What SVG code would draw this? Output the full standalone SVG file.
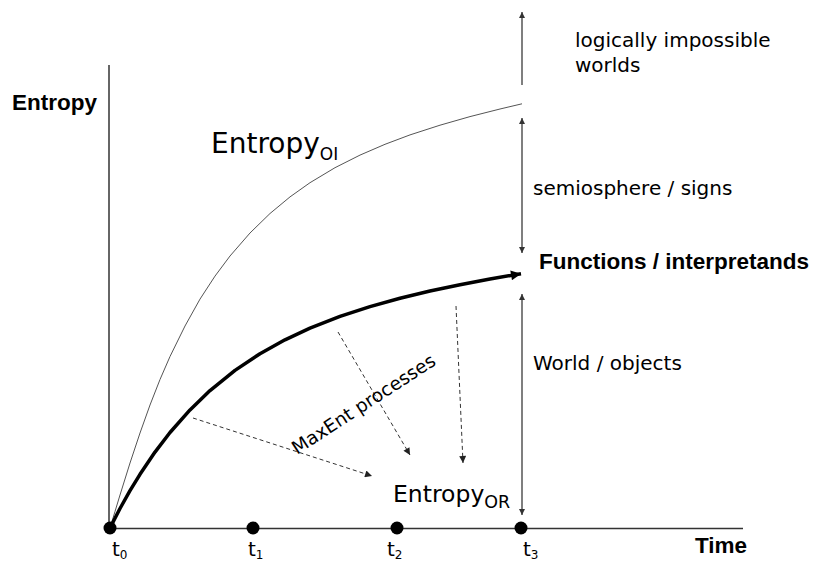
<svg xmlns="http://www.w3.org/2000/svg" width="815" height="563" viewBox="0 0 815 563">
<style>
  .axis{stroke:#333;stroke-width:1.5;fill:none}
  .range{stroke:#555;stroke-width:1.5;fill:none}
  .dash{stroke:#333;stroke-width:1;stroke-dasharray:4 3;fill:none}
  .thin{stroke:#555;stroke-width:1;fill:none;stroke-linejoin:round}
  .thick{stroke:#000;stroke-width:3.5;fill:none;stroke-linejoin:round}
  .lbl{font-family:"DejaVu Sans","Verdana",sans-serif;fill:#000}
  .bold{font-family:"Liberation Sans",Arial,sans-serif;font-weight:bold;fill:#000}
  .dot{fill:#000}
</style>
<defs>
  <marker id="hSmall" viewBox="0 0 10 10" refX="10" refY="5" markerWidth="7" markerHeight="6" markerUnits="userSpaceOnUse" orient="auto-start-reverse">
    <path d="M0,0 L10,5 L0,10 z" fill="#333"/>
  </marker>
  <marker id="hDash" viewBox="0 0 10 10" refX="10" refY="5" markerWidth="9" markerHeight="7" markerUnits="userSpaceOnUse" orient="auto">
    <path d="M0,0 L10,5 L0,10 z" fill="#222"/>
  </marker>
  <marker id="hThick" viewBox="0 0 10 10" refX="10" refY="5" markerWidth="14" markerHeight="10" markerUnits="userSpaceOnUse" orient="auto">
    <path d="M0,0 L10,5 L0,10 z" fill="#000"/>
  </marker>
</defs>
<rect width="815" height="563" fill="#fff"/>

<g id="axes">
  <line class="axis" x1="109" y1="65" x2="109" y2="528"/>
  <line class="axis" x1="109" y1="528.5" x2="743" y2="528.5"/>
  <text class="bold" x="12" y="110" font-size="22.5">Entropy</text>
  <text class="bold" x="695" y="553" font-size="22.5">Time</text>
</g>

<g id="curve-OI">
  <polyline class="thin" points="110,528 115,511.5 120,495 125,479 130,463 140,433 150,405 160,379.5 170,356.5 185,326 200,299.1 215,276.1 230,256 250,233 270,213.5 290,196.9 310,182.7 335,167.7 360,155.1 385,144.3 410,134.9 440,125.2 470,116.6 500,109 522,103.8"/>
  <text class="lbl" x="211" y="153" font-size="28">Entropy<tspan font-size="17" dy="7">OI</tspan></text>
</g>

<g id="curve-OR">
  <polyline class="thick" marker-end="url(#hThick)" points="110,528 120,508.5 130,490.7 140,474.3 155,452.1 170,432.5 190,409.9 210,390.6 235,370.4 260,353.7 285,339.8 310,328.1 340,316.4 370,306.6 400,298.2 430,291 460,284.7 490,279 521,273.7"/>
  <text class="lbl" x="393" y="502" font-size="23.5">Entropy<tspan font-size="17.5" dy="6">OR</tspan></text>
</g>

<g id="connectors">
  <line class="dash" x1="193" y1="418" x2="372" y2="476" marker-end="url(#hDash)"/>
  <line class="dash" x1="338" y1="332" x2="410" y2="455" marker-end="url(#hDash)"/>
  <line class="dash" x1="456" y1="306" x2="463" y2="463" marker-end="url(#hDash)"/>
  <line class="range" x1="522" y1="85" x2="522" y2="12" marker-end="url(#hSmall)"/>
  <line class="range" x1="522" y1="118" x2="522" y2="253" marker-start="url(#hSmall)" marker-end="url(#hSmall)"/>
  <line class="range" x1="522" y1="294" x2="522" y2="515" marker-start="url(#hSmall)" marker-end="url(#hSmall)"/>
</g>

<g id="maxent-label">
  <text class="lbl" font-size="18.5" transform="translate(297,455) rotate(-33)">MaxEnt processes</text>
</g>

<g id="region-labels">
  <text class="lbl" x="575" y="47" font-size="20">logically impossible</text>
  <text class="lbl" x="575" y="72" font-size="20">worlds</text>
  <text class="lbl" x="533" y="195" font-size="20">semiosphere / signs</text>
  <text class="bold" x="539" y="269" font-size="22.5">Functions / interpretands</text>
  <text class="lbl" x="533" y="370" font-size="20">World / objects</text>
</g>

<g id="t0"><circle class="dot" cx="110" cy="528" r="6.5"/><text class="lbl" x="112" y="556" font-size="20">t<tspan font-size="12" dy="3">0</tspan></text></g>
<g id="t1"><circle class="dot" cx="253" cy="528" r="6.5"/><text class="lbl" x="248" y="556" font-size="20">t<tspan font-size="12" dy="3">1</tspan></text></g>
<g id="t2"><circle class="dot" cx="397" cy="528" r="6.5"/><text class="lbl" x="387" y="556" font-size="20">t<tspan font-size="12" dy="3">2</tspan></text></g>
<g id="t3"><circle class="dot" cx="521" cy="528" r="6.5"/><text class="lbl" x="523" y="556" font-size="20">t<tspan font-size="12" dy="3">3</tspan></text></g>
</svg>
